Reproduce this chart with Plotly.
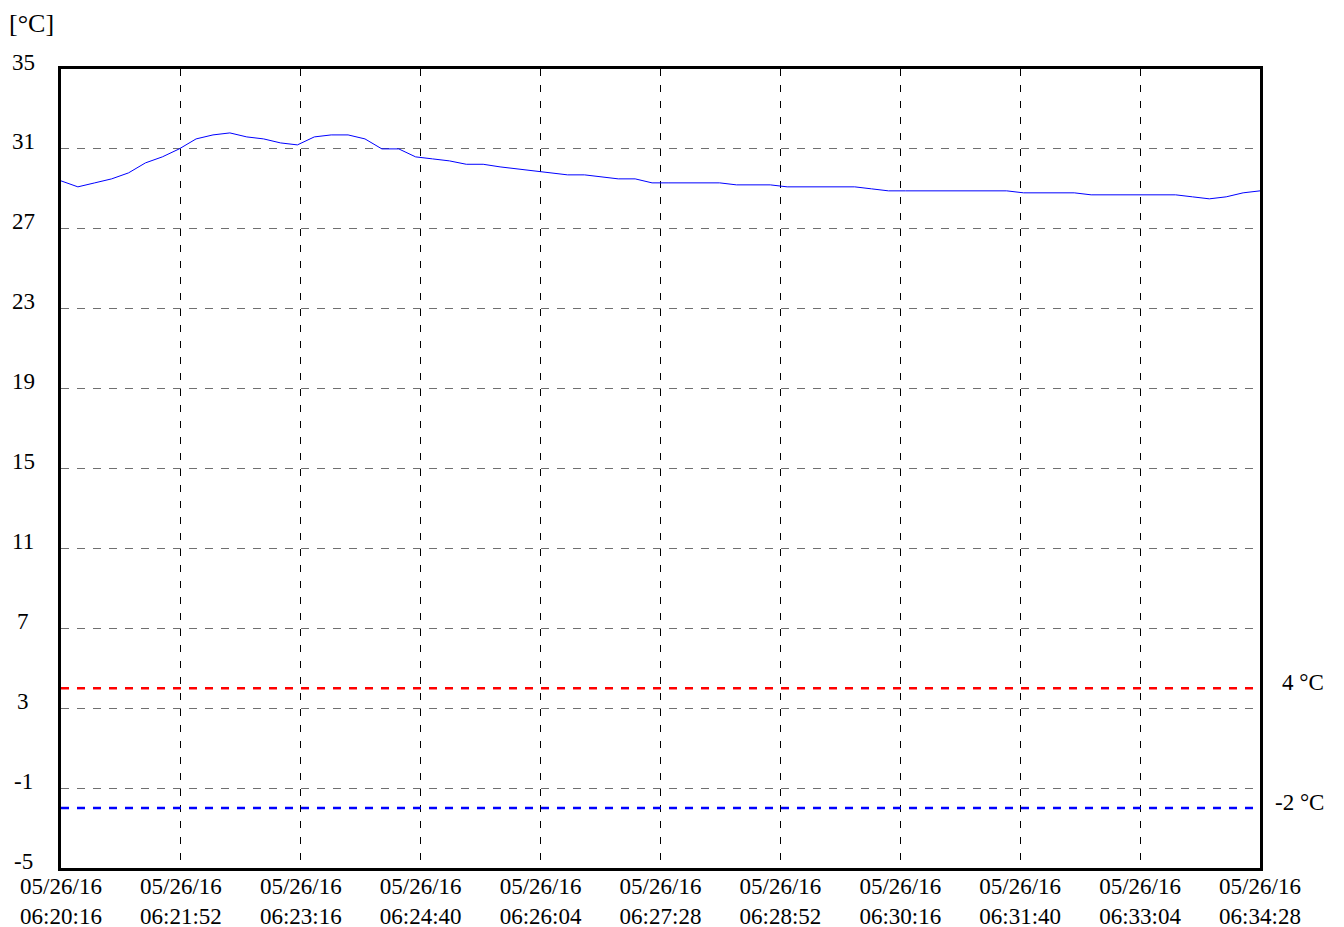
import pandas as pd
import plotly.graph_objects as go

start_time = "2016-05-26 06:20:16"
end_time = "2016-05-26 06:34:28"
sample_seconds = 12

temperature_c = [
    29.4, 29.1, 29.3, 29.5, 29.8, 30.3, 30.6, 31.0, 31.5, 31.7,
    31.8, 31.6, 31.5, 31.3, 31.2, 31.6, 31.7, 31.7, 31.5, 31.0,
    31.0, 30.6, 30.5, 30.4, 30.23, 30.23, 30.1, 30.0, 29.9, 29.8,
    29.7, 29.7, 29.6, 29.5, 29.5, 29.3, 29.3, 29.3, 29.3, 29.3,
    29.2, 29.2, 29.2, 29.1, 29.1, 29.1, 29.1, 29.1, 29.0, 28.9,
    28.9, 28.9, 28.9, 28.9, 28.9, 28.9, 28.9, 28.8, 28.8, 28.8,
    28.8, 28.7, 28.7, 28.7, 28.7, 28.7, 28.7, 28.6, 28.5, 28.6,
    28.8, 28.9,
]

x_tick_labels = [
    "05/26/16<br>06:20:16", "05/26/16<br>06:21:52", "05/26/16<br>06:23:16",
    "05/26/16<br>06:24:40", "05/26/16<br>06:26:04", "05/26/16<br>06:27:28",
    "05/26/16<br>06:28:52", "05/26/16<br>06:30:16", "05/26/16<br>06:31:40",
    "05/26/16<br>06:33:04", "05/26/16<br>06:34:28",
]
y_ticks = [-5, -1, 3, 7, 11, 15, 19, 23, 27, 31, 35]

upper_limit = 4
lower_limit = -2
upper_label = "4 °C"
lower_label = "-2 °C"
unit_label = "[°C]"

times = pd.date_range(start=start_time, periods=len(temperature_c), freq=f"{sample_seconds}s")
tick_positions = pd.date_range(start=start_time, end=end_time, periods=len(x_tick_labels))

FONT = "Liberation Serif, Times New Roman, serif"
FS = 23
BODY = 8  # default page body margin offset

# target plot box in the page: left 61, top 69, right 1260, bottom 868
W, H = 1344, 927
ML, MT = 61 - BODY, 69 - BODY
MR = (W + BODY) - 1260
MB = (H + BODY) - 868

fig = go.Figure()
fig.add_trace(go.Scatter(
    x=times, y=temperature_c, mode="lines",
    line=dict(color="#0000ff", width=1), showlegend=False, hoverinfo="skip",
))
for val, col in [(upper_limit, "#ff0000"), (lower_limit, "#0000ff")]:
    fig.add_trace(go.Scatter(
        x=[pd.Timestamp(start_time), pd.Timestamp(end_time)], y=[val, val], mode="lines",
        line=dict(color=col, width=2.5, dash="8px,8px"), showlegend=False, hoverinfo="skip",
    ))

annotations = [
    dict(text=str(v), xref="paper", yref="y", x=0, y=v, xanchor="center", yanchor="middle",
         xshift=-(61 - 23), yshift=7, showarrow=False,
         font=dict(family=FONT, size=FS, color="black"))
    for v in y_ticks
]
annotations += [
    dict(text=unit_label, xref="paper", yref="paper", x=0, y=1, xanchor="left", yanchor="middle",
         xshift=-54, yshift=46, showarrow=False, font=dict(family=FONT, size=26, color="black")),
    dict(text=upper_label, xref="paper", yref="y", x=1, y=upper_limit, xanchor="right", yanchor="middle",
         xshift=66, yshift=6, showarrow=False, font=dict(family=FONT, size=FS, color="black")),
    dict(text=lower_label, xref="paper", yref="y", x=1, y=lower_limit, xanchor="right", yanchor="middle",
         xshift=66, yshift=6, showarrow=False, font=dict(family=FONT, size=FS, color="black")),
]

fig.update_layout(
    width=W, height=H,
    margin=dict(l=ML, r=MR, t=MT, b=MB, autoexpand=False),
    paper_bgcolor="white", plot_bgcolor="white",
    font=dict(family=FONT, size=FS, color="black"),
    xaxis=dict(
        type="date", automargin=False,
        range=[pd.Timestamp(start_time), pd.Timestamp(end_time)],
        tickmode="array", tickvals=tick_positions, ticktext=x_tick_labels,
        showgrid=True, gridcolor="black", gridwidth=1, griddash="7px,9px",
        showline=True, linecolor="black", linewidth=2.5, mirror=True,
        ticks="", zeroline=False, ticklabelstandoff=-4,
        tickfont=dict(family=FONT, size=FS, color="black"),
    ),
    yaxis=dict(
        range=[-5, 35], automargin=False,
        tickmode="array", tickvals=y_ticks, showticklabels=False,
        showgrid=True, gridcolor="#707070", gridwidth=1.3, griddash="8px,8px",
        showline=True, linecolor="black", linewidth=2.5, mirror=True,
        ticks="", zeroline=False,
    ),
    annotations=annotations,
)

fig.write_html("out.html")
